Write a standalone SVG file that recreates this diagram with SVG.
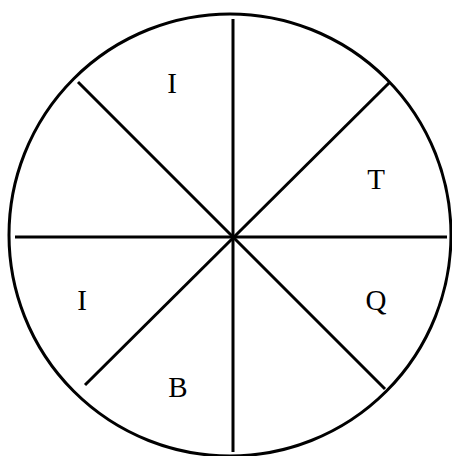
<svg xmlns="http://www.w3.org/2000/svg" width="452" height="456" viewBox="0 0 452 456">
<style>
.l{stroke:#000;stroke-width:3;fill:none}
.t{font-family:"Liberation Serif","Times New Roman",serif;font-size:29px;fill:#000;text-anchor:middle}
</style>
<rect width="452" height="456" fill="#fff"/>
<g id="circle"><circle class="l" cx="230" cy="235" r="221"/></g>
<g id="connectors">
<line class="l" x1="15" y1="237" x2="447" y2="237"/>
<line class="l" x1="233" y1="19" x2="233" y2="452"/>
<line class="l" x1="78" y1="82" x2="385" y2="389"/>
<line class="l" x1="390" y1="82" x2="85" y2="385"/>
</g>
<g id="labels">
<text class="t" x="172" y="93">I</text>
<text class="t" x="376" y="189">T</text>
<text class="t" x="82" y="310">I</text>
<text class="t" x="376" y="310">Q</text>
<text class="t" x="178" y="397">B</text>
</g>
</svg>
